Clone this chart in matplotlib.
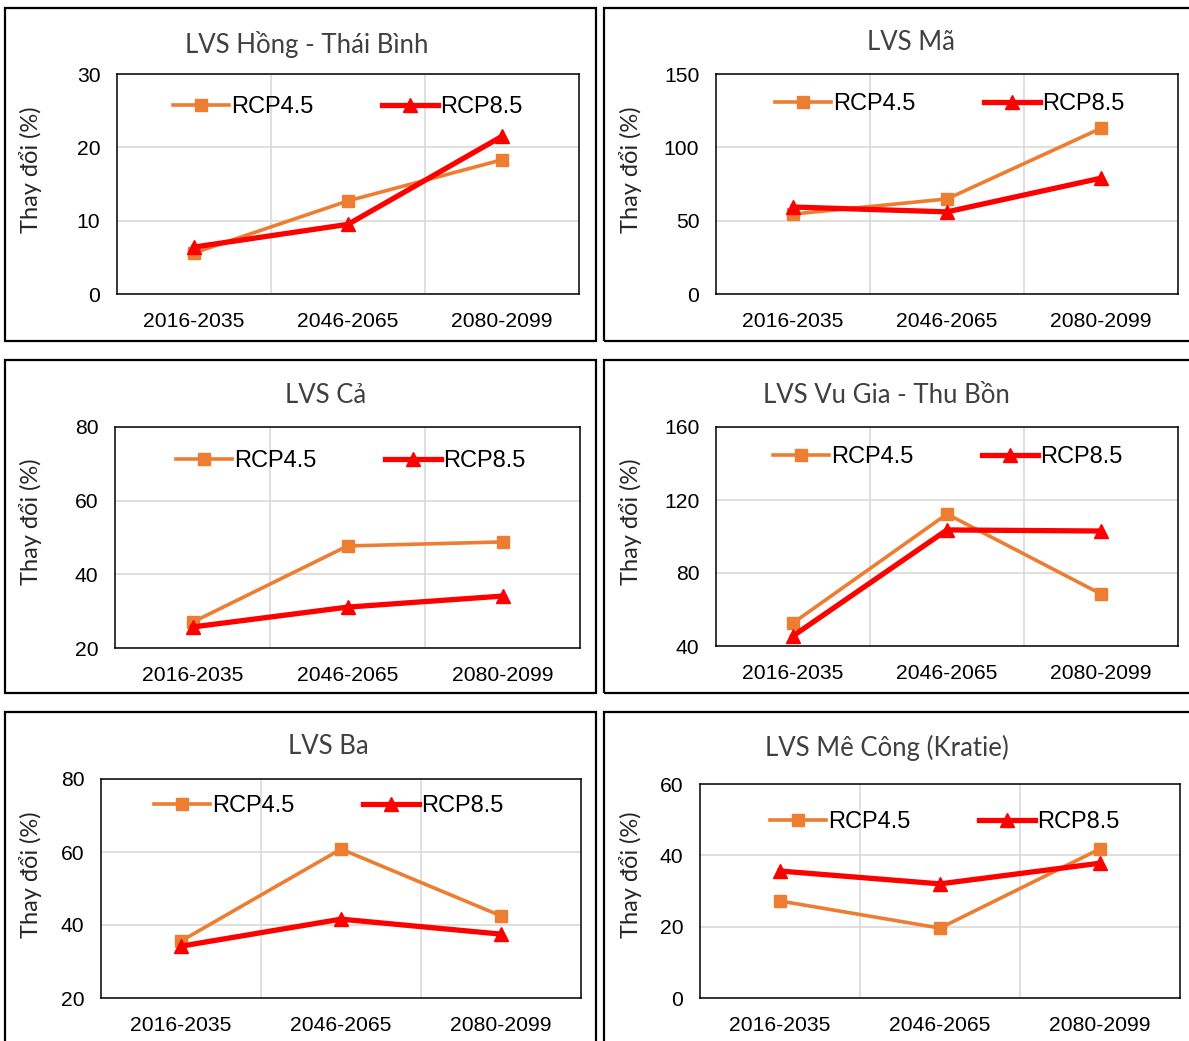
import matplotlib
matplotlib.use('Agg')
import matplotlib.pyplot as plt
from matplotlib.patches import Rectangle

# số liệu
periods = ['2016-2035', '2046-2065', '2080-2099']
titles = ['LVS Hồng - Thái Bình', 'LVS Mã', 'LVS Cả',
          'LVS Vu Gia - Thu Bồn', 'LVS Ba', 'LVS Mê Công (Kratie)']

hong_rcp45 = [5.6, 12.7, 18.3]
hong_rcp85 = [6.4, 9.5, 21.5]
ma_rcp45 = [54.5, 64.8, 113.0]
ma_rcp85 = [59.3, 56.0, 79.0]
ca_rcp45 = [27.0, 47.7, 48.8]
ca_rcp85 = [25.7, 31.1, 34.1]
vugia_rcp45 = [52.6, 112.3, 68.5]
vugia_rcp85 = [45.5, 103.6, 103.0]
ba_rcp45 = [35.6, 60.8, 42.5]
ba_rcp85 = [34.2, 41.6, 37.5]
mekong_rcp45 = [27.2, 19.6, 41.8]
mekong_rcp85 = [35.6, 32.0, 37.8]

rcp45_all = [hong_rcp45, ma_rcp45, ca_rcp45, vugia_rcp45, ba_rcp45, mekong_rcp45]
rcp85_all = [hong_rcp85, ma_rcp85, ca_rcp85, vugia_rcp85, ba_rcp85, mekong_rcp85]
yticks_all = [[0, 10, 20, 30], [0, 50, 100, 150], [20, 40, 60, 80],
              [40, 80, 120, 160], [20, 40, 60, 80], [0, 20, 40, 60]]

W, H = 1189, 1041

# vị trí (pixel): khung, trục, tiêu đề, nhãn trục y, chú giải
frames = [(5, 8, 596, 341), (604, 8, 1195, 341),
          (5, 360, 596, 693), (604, 360, 1195, 693),
          (5, 712, 596, 1048), (604, 712, 1195, 1048)]
axes_px = [(117, 74, 579, 294), (716, 74, 1178, 294),
           (115, 427, 580, 648), (716, 427, 1178, 646),
           (101, 779, 581, 998), (700, 784, 1180, 998)]
title_px = [(307, 45), (911, 43), (326, 395), (886, 395), (328, 747), (887, 748)]
ylab_px = [(31, 170), (630, 170), (31, 522), (630, 522), (31, 875), (630, 875)]
leg_px = [(348, 107), (950, 104), (351, 461), (948, 457), (329, 806), (945, 822)]

fig = plt.figure(figsize=(W / 100, H / 100), dpi=100)

title_font = ['Lato', 'DejaVu Sans']
tick_font = ['Liberation Sans', 'DejaVu Sans']

for i in range(6):
    fx0, fy0, fx1, fy1 = frames[i]
    fig.add_artist(Rectangle((fx0 / W, 1 - fy1 / H), (fx1 - fx0) / W, (fy1 - fy0) / H,
                             transform=fig.transFigure, fill=False,
                             edgecolor='black', linewidth=1.6))

    x0, y0, x1, y1 = axes_px[i]
    ax = fig.add_axes([x0 / W, 1 - y1 / H, (x1 - x0) / W, (y1 - y0) / H])
    xs = range(len(periods))
    ax.plot(xs, rcp45_all[i], color='#ED7D31', linewidth=2.6, marker='s',
            markersize=8.5, label='RCP4.5', zorder=3)
    ax.plot(xs, rcp85_all[i], color='#FF0000', linewidth=3.8, marker='^',
            markersize=10, label='RCP8.5', zorder=4)

    yt = yticks_all[i]
    ax.set_ylim(yt[0], yt[-1])
    ax.set_yticks(yt)
    ax.set_xlim(-0.5, 2.5)
    ax.set_xticks(list(xs))
    ax.set_xticklabels(periods)
    ax.set_xticks([0.5, 1.5], minor=True)
    ax.grid(True, which='major', axis='y', color='#D9D9D9', linewidth=1.2)
    ax.grid(True, which='minor', axis='x', color='#D9D9D9', linewidth=1.2)
    ax.set_axisbelow(True)
    ax.tick_params(which='both', length=0)
    ax.tick_params(axis='y', pad=12, labelsize=15.2)
    ax.tick_params(axis='x', pad=13, labelsize=15.2)
    for lab in ax.get_xticklabels() + ax.get_yticklabels():
        lab.set_family(tick_font)
    for sp in ax.spines.values():
        sp.set_color('black')
        sp.set_linewidth(1.1)

    lx, ly = leg_px[i]
    ax.legend(loc='center', bbox_to_anchor=(lx / W, 1 - ly / H),
              bbox_transform=fig.transFigure, ncol=2, frameon=False,
              handlelength=2.35, handletextpad=0.12, columnspacing=2.9,
              prop={'family': tick_font, 'size': 17})

    tx, ty = title_px[i]
    fig.text(tx / W, 1 - ty / H, titles[i], ha='center', va='center',
             fontsize=18.5, family=title_font, color='#404040')
    yx, yy = ylab_px[i]
    fig.text(yx / W, 1 - yy / H, 'Thay đổi (%)', ha='center', va='center',
             rotation=90, fontsize=17, family=title_font, color='#262626')

fig.savefig('out.png', dpi=100)
